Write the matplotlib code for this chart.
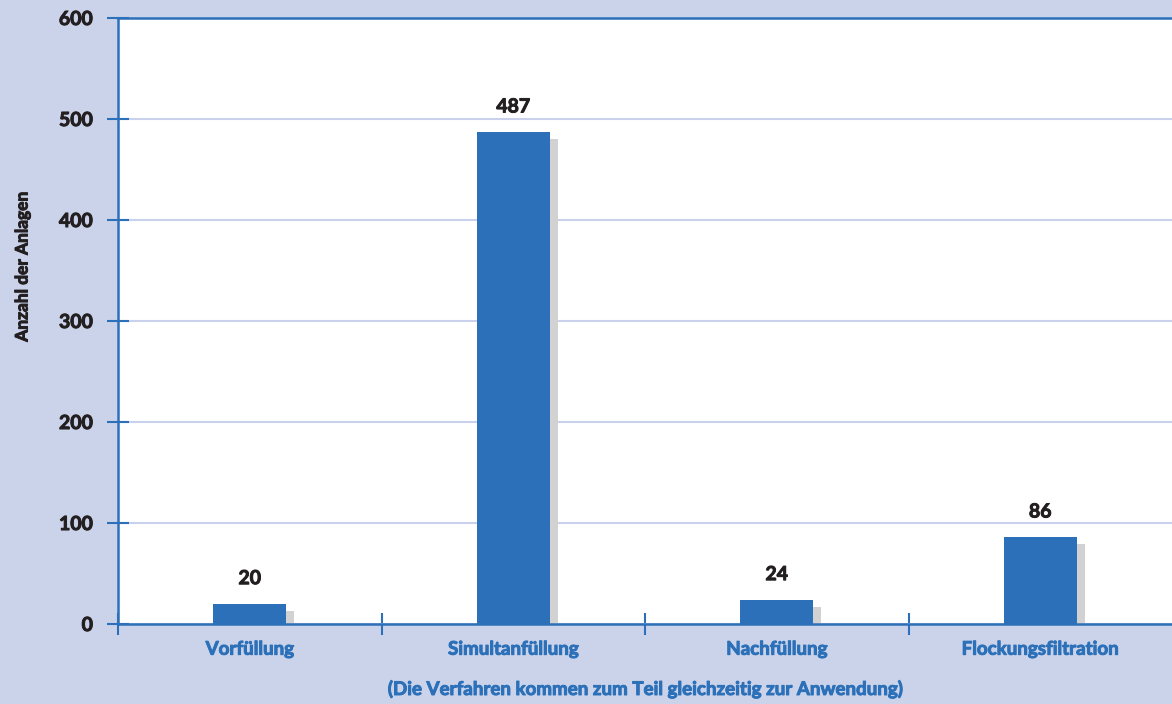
import matplotlib.pyplot as plt
import matplotlib.transforms as mtransforms
import matplotlib.patheffects as pe

categories = ['Vorfüllung', 'Simultanfüllung', 'Nachfüllung', 'Flockungsfiltration']
anlagen = [20, 487, 24, 86]
y_ticks = [0, 100, 200, 300, 400, 500, 600]

BG = '#cbd3ea'
BLUE = '#2b70b8'
DARK = '#231f20'
GRID = '#c9d1ec'
SHADOW = '#d2d2d2'

plt.rcParams['font.family'] = ['Lato', 'DejaVu Sans']
plt.rcParams['font.weight'] = 'bold'
plt.rcParams['axes.labelweight'] = 'bold'


def heavy(color):
    # thicken the glyphs a little so the bold face reads heavier
    return [pe.withStroke(linewidth=0.7, foreground=color)]


fig = plt.figure(figsize=(11.72, 7.04), dpi=100, facecolor=BG)
ax = fig.add_axes([0.1007, 0.1136, 0.8993, 0.8608])
ax.set_facecolor('white')

x = list(range(len(categories)))
width = 0.276

# drop shadow: same bars shifted a few pixels right and down
shadow_tr = mtransforms.offset_copy(ax.transData, fig=fig, x=8, y=-7, units='dots')
ax.bar(x, anlagen, width=width, color=SHADOW, transform=shadow_tr, zorder=2)
ax.bar(x, anlagen, width=width, color=BLUE, zorder=3)

for xi, v in zip(x, anlagen):
    ax.annotate(str(v), (xi, v), xytext=(0, 12), textcoords='offset points',
                ha='center', va='bottom', fontsize=14, fontweight='bold', color=DARK,
                path_effects=heavy(DARK))

ax.set_xlim(-0.5, len(categories) - 0.5)
ax.set_ylim(0, 600)
ax.set_yticks(y_ticks)
ax.set_yticklabels([str(t) for t in y_ticks], fontsize=14, color=DARK, fontweight='bold',
                   path_effects=heavy(DARK))
ax.yaxis.grid(True, color=GRID, linewidth=1.5, zorder=0)
ax.set_axisbelow(True)

# category labels between boundary ticks
ax.set_xticks(x)
ax.set_xticklabels(categories, fontsize=13.5, color=BLUE, fontweight='bold',
                   path_effects=heavy(BLUE))
ax.tick_params(axis='x', which='major', length=0, pad=12)
ax.set_xticks([i - 0.5 for i in range(len(categories))], minor=True)
ax.tick_params(axis='x', which='minor', direction='inout', length=16, width=1.5, color=BLUE)
ax.tick_params(axis='y', direction='inout', length=16, width=1.5, color=BLUE, pad=10)

for side in ['left', 'bottom', 'top']:
    ax.spines[side].set_color(BLUE)
    ax.spines[side].set_linewidth(1.8)
ax.spines['right'].set_visible(False)

ax.set_xlabel('(Die Verfahren kommen zum Teil gleichzeitig zur Anwendung)',
              fontsize=13.5, color=BLUE, fontweight='bold', labelpad=16,
              path_effects=heavy(BLUE))
ax.set_ylabel('Anzahl der Anlagen', fontsize=12.5, color=DARK, fontweight='bold',
              path_effects=heavy(DARK))
ax.yaxis.set_label_coords(-0.083, 0.59)

fig.savefig('out.png', dpi=100, facecolor=BG)
